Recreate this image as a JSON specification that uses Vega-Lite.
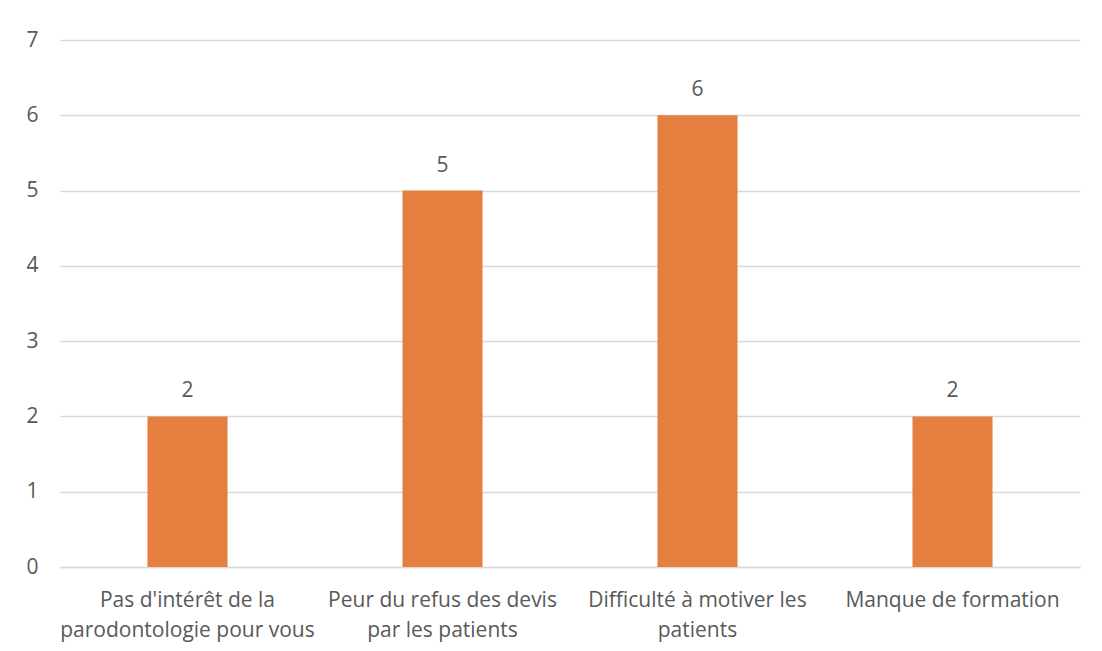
{
  "$schema": "https://vega.github.io/schema/vega-lite/v6.json",
  "autosize": {"type": "none"},
  "width": 1020,
  "height": 527,
  "padding": {"left": 60, "top": 40, "right": 22, "bottom": 84},
  "background": "white",
  "config": {
    "view": {"stroke": null},
    "font": "Open Sans",
    "axis": {"labelFont": "Open Sans", "labelColor": "#595959", "labelFontSize": 21}
  },
  "data": {
    "values": [
      {"raison": "Pas d'intérêt de la parodontologie pour vous", "n": 2},
      {"raison": "Peur du refus des devis par les patients", "n": 5},
      {"raison": "Difficulté à motiver les patients", "n": 6},
      {"raison": "Manque de formation", "n": 2}
    ]
  },
  "encoding": {
    "x": {
      "field": "raison",
      "type": "nominal",
      "sort": null,
      "scale": {"paddingInner": 0.686, "paddingOuter": 0.343},
      "axis": {
        "title": null,
        "labelAngle": 0,
        "ticks": false,
        "domain": true,
        "domainColor": "#d9d9d9",
        "domainWidth": 1.5,
        "labelPadding": 22,
        "labelLimit": 400,
        "labelLineHeight": 30,
        "labelExpr": "datum.value == \"Pas d'intérêt de la parodontologie pour vous\" ? [\"Pas d'intérêt de la\", \"parodontologie pour vous\"] : datum.value == \"Peur du refus des devis par les patients\" ? [\"Peur du refus des devis\", \"par les patients\"] : datum.value == \"Difficulté à motiver les patients\" ? [\"Difficulté à motiver les\", \"patients\"] : datum.label"
      }
    },
    "y": {
      "field": "n",
      "type": "quantitative",
      "scale": {"domain": [0, 7], "nice": false},
      "axis": {
        "title": null,
        "values": [0, 1, 2, 3, 4, 5, 6, 7],
        "ticks": false,
        "domain": false,
        "grid": true,
        "gridColor": "#d9d9d9",
        "gridWidth": 1.3,
        "labelPadding": 22
      }
    }
  },
  "layer": [
    {"mark": {"type": "bar", "color": "#E57F3F"}},
    {
      "mark": {"type": "text", "baseline": "bottom", "dy": -15, "font": "Open Sans", "fontSize": 21, "color": "#595959"},
      "encoding": {"text": {"field": "n", "type": "quantitative"}}
    }
  ]
}
